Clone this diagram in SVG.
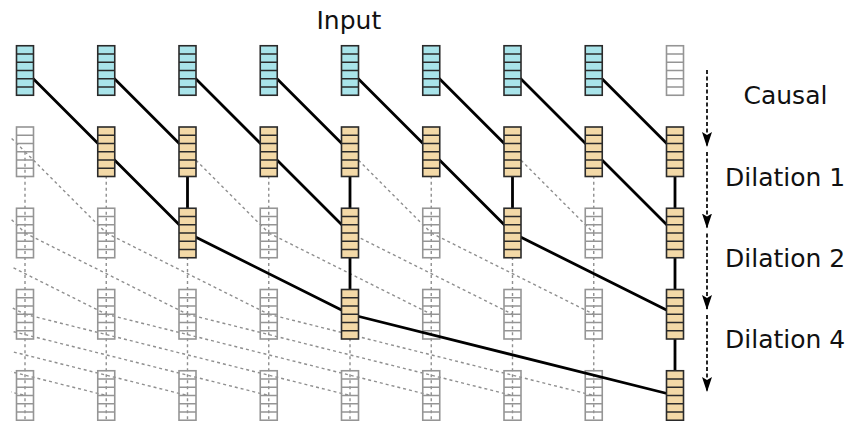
<svg xmlns="http://www.w3.org/2000/svg" xmlns:xlink="http://www.w3.org/1999/xlink" width="852" height="421" viewBox="0 0 852 421">
<style>
.lbl{font-family:"DejaVu Sans","Liberation Sans",sans-serif;font-size:25px;fill:#111}
.dot{stroke:#8f8f8f;stroke-width:1.4;stroke-dasharray:3 3;fill:none}
.sol{stroke:#000;stroke-width:2.8;fill:none;stroke-linecap:round}
.cy{fill:#a9e4ea;stroke:#2a2a2a;stroke-width:1.6}
.tn{fill:#f3d9a7;stroke:#2a2a2a;stroke-width:1.6}
.gr{fill:none;stroke:#959595;stroke-width:1.6}
.arr{stroke:#000;stroke-width:1.7;stroke-dasharray:4 2.5;fill:none}
</style>
<defs>
<g id="box">
<rect x="-8.5" y="-24.75" width="17" height="49.5"/>
<path d="M-8.5,-16.5H8.5M-8.5,-8.25H8.5M-8.5,0H8.5M-8.5,8.25H8.5M-8.5,16.5H8.5"/>
</g>
<clipPath id="clipL"><rect x="11" y="0" width="841" height="421"/></clipPath>
<marker id="ah" markerUnits="userSpaceOnUse" markerWidth="15" markerHeight="10" viewBox="0 0 15 10" refX="14.5" refY="5" orient="auto">
<path d="M0,0 L15,5 L0,10 L3,5 z" fill="#000"/>
</marker>
</defs>

<g id="connectors">
<g id="dotted" class="dot" clip-path="url(#clipL)">
<path d="M-56.25,70.5L25,151.75"/>
<path d="M25,151.75V233M106.25,151.75V233M268.75,151.75V233M431.25,151.75V233M593.75,151.75V233"/>
<path d="M-56.25,151.75L25,233M25,151.75L106.25,233M187.5,151.75L268.75,233M350,151.75L431.25,233M512.5,151.75L593.75,233"/>
<path d="M25,233V314.25M106.25,233V314.25M187.5,233V314.25M268.75,233V314.25M431.25,233V314.25M512.5,233V314.25M593.75,233V314.25"/>
<path d="M-137.5,233L25,314.25M-56.25,233L106.25,314.25M25,233L187.5,314.25M106.25,233L268.75,314.25M268.75,233L431.25,314.25M350,233L512.5,314.25M431.25,233L593.75,314.25"/>
<path d="M25,314.25V421M106.25,314.25V421M187.5,314.25V421M268.75,314.25V421M350,314.25V421M431.25,314.25V421M512.5,314.25V421M593.75,314.25V421"/>
<path d="M-300,314.25L25,395.5M-218.75,314.25L106.25,395.5M-137.5,314.25L187.5,395.5M-56.25,314.25L268.75,395.5M25,314.25L350,395.5M106.25,314.25L431.25,395.5M187.5,314.25L512.5,395.5M268.75,314.25L593.75,395.5"/>
</g>
</g>

<g id="grey-nodes">
<g id="n0-8"><use xlink:href="#box" class="gr" transform="translate(675,70.5)"/></g>
<g id="n1-0"><use xlink:href="#box" class="gr" transform="translate(25,151.75)"/></g>
<g id="n2-0"><use xlink:href="#box" class="gr" transform="translate(25,233)"/></g>
<g id="n2-1"><use xlink:href="#box" class="gr" transform="translate(106.25,233)"/></g>
<g id="n2-3"><use xlink:href="#box" class="gr" transform="translate(268.75,233)"/></g>
<g id="n2-5"><use xlink:href="#box" class="gr" transform="translate(431.25,233)"/></g>
<g id="n2-7"><use xlink:href="#box" class="gr" transform="translate(593.75,233)"/></g>
<g id="n3-0"><use xlink:href="#box" class="gr" transform="translate(25,314.25)"/></g>
<g id="n3-1"><use xlink:href="#box" class="gr" transform="translate(106.25,314.25)"/></g>
<g id="n3-2"><use xlink:href="#box" class="gr" transform="translate(187.5,314.25)"/></g>
<g id="n3-3"><use xlink:href="#box" class="gr" transform="translate(268.75,314.25)"/></g>
<g id="n3-5"><use xlink:href="#box" class="gr" transform="translate(431.25,314.25)"/></g>
<g id="n3-6"><use xlink:href="#box" class="gr" transform="translate(512.5,314.25)"/></g>
<g id="n3-7"><use xlink:href="#box" class="gr" transform="translate(593.75,314.25)"/></g>
<g id="n4-0"><use xlink:href="#box" class="gr" transform="translate(25,395.5)"/></g>
<g id="n4-1"><use xlink:href="#box" class="gr" transform="translate(106.25,395.5)"/></g>
<g id="n4-2"><use xlink:href="#box" class="gr" transform="translate(187.5,395.5)"/></g>
<g id="n4-3"><use xlink:href="#box" class="gr" transform="translate(268.75,395.5)"/></g>
<g id="n4-4"><use xlink:href="#box" class="gr" transform="translate(350,395.5)"/></g>
<g id="n4-5"><use xlink:href="#box" class="gr" transform="translate(431.25,395.5)"/></g>
<g id="n4-6"><use xlink:href="#box" class="gr" transform="translate(512.5,395.5)"/></g>
<g id="n4-7"><use xlink:href="#box" class="gr" transform="translate(593.75,395.5)"/></g>
</g>

<g id="solid-connectors" class="sol">
<path d="M25,70.5L106.25,151.75M106.25,70.5L187.5,151.75M187.5,70.5L268.75,151.75M268.75,70.5L350,151.75M350,70.5L431.25,151.75M431.25,70.5L512.5,151.75M512.5,70.5L593.75,151.75M593.75,70.5L675,151.75"/>
<path d="M106.25,151.75L187.5,233M187.5,151.75V233M268.75,151.75L350,233M350,151.75V233M431.25,151.75L512.5,233M512.5,151.75V233M593.75,151.75L675,233M675,151.75V233"/>
<path d="M187.5,233L350,314.25M350,233V314.25M512.5,233L675,314.25M675,233V314.25"/>
<path d="M350,314.25L675,395.5M675,314.25V395.5"/>
</g>

<g id="input-nodes">
<g id="n0-0"><use xlink:href="#box" class="cy" transform="translate(25,70.5)"/></g>
<g id="n0-1"><use xlink:href="#box" class="cy" transform="translate(106.25,70.5)"/></g>
<g id="n0-2"><use xlink:href="#box" class="cy" transform="translate(187.5,70.5)"/></g>
<g id="n0-3"><use xlink:href="#box" class="cy" transform="translate(268.75,70.5)"/></g>
<g id="n0-4"><use xlink:href="#box" class="cy" transform="translate(350,70.5)"/></g>
<g id="n0-5"><use xlink:href="#box" class="cy" transform="translate(431.25,70.5)"/></g>
<g id="n0-6"><use xlink:href="#box" class="cy" transform="translate(512.5,70.5)"/></g>
<g id="n0-7"><use xlink:href="#box" class="cy" transform="translate(593.75,70.5)"/></g>
</g>

<g id="active-nodes">
<g id="n1-1"><use xlink:href="#box" class="tn" transform="translate(106.25,151.75)"/></g>
<g id="n1-2"><use xlink:href="#box" class="tn" transform="translate(187.5,151.75)"/></g>
<g id="n1-3"><use xlink:href="#box" class="tn" transform="translate(268.75,151.75)"/></g>
<g id="n1-4"><use xlink:href="#box" class="tn" transform="translate(350,151.75)"/></g>
<g id="n1-5"><use xlink:href="#box" class="tn" transform="translate(431.25,151.75)"/></g>
<g id="n1-6"><use xlink:href="#box" class="tn" transform="translate(512.5,151.75)"/></g>
<g id="n1-7"><use xlink:href="#box" class="tn" transform="translate(593.75,151.75)"/></g>
<g id="n1-8"><use xlink:href="#box" class="tn" transform="translate(675,151.75)"/></g>
<g id="n2-2"><use xlink:href="#box" class="tn" transform="translate(187.5,233)"/></g>
<g id="n2-4"><use xlink:href="#box" class="tn" transform="translate(350,233)"/></g>
<g id="n2-6"><use xlink:href="#box" class="tn" transform="translate(512.5,233)"/></g>
<g id="n2-8"><use xlink:href="#box" class="tn" transform="translate(675,233)"/></g>
<g id="n3-4"><use xlink:href="#box" class="tn" transform="translate(350,314.25)"/></g>
<g id="n3-8"><use xlink:href="#box" class="tn" transform="translate(675,314.25)"/></g>
<g id="n4-8"><use xlink:href="#box" class="tn" transform="translate(675,395.5)"/></g>
</g>

<g id="arrows" class="arr">
<path d="M707,70V146.5" marker-end="url(#ah)"/>
<path d="M707,152V228" marker-end="url(#ah)"/>
<path d="M707,233.5V309.5" marker-end="url(#ah)"/>
<path d="M707,315V391.5" marker-end="url(#ah)"/>
</g>

<g id="labels">
<text class="lbl" x="316.5" y="28.5">Input</text>
<text class="lbl" x="743.5" y="104">Causal</text>
<text class="lbl" x="725" y="185.5">Dilation 1</text>
<text class="lbl" x="725" y="266.5">Dilation 2</text>
<text class="lbl" x="725" y="347.5">Dilation 4</text>
</g>
</svg>
